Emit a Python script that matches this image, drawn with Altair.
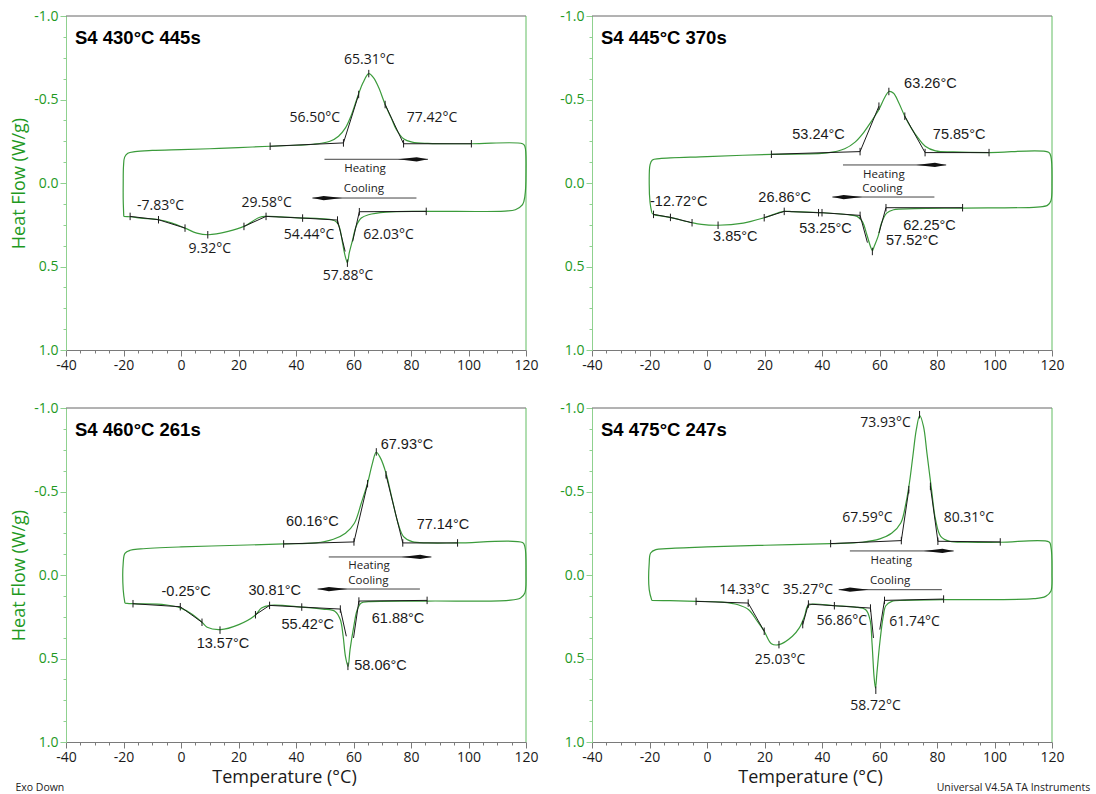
import altair as alt
import pandas as pd

# ---------------- data ----------------
TITLES = ["S4 430°C 445s", "S4 445°C 370s", "S4 460°C 261s", "S4 475°C 247s"]

X_TICKS = [-40, -35, -30, -25, -20, -15, -10, -5, 0, 5, 10, 15, 20, 25, 30, 35,
           40, 45, 50, 55, 60, 65, 70, 75, 80, 85, 90, 95, 100, 105, 110, 115, 120]
Y_TICKS = [-1.0, -0.875, -0.75, -0.625, -0.5, -0.375, -0.25, -0.125, 0.0,
           0.125, 0.25, 0.375, 0.5, 0.625, 0.75, 0.875, 1.0]

# green DSC loop, path order (left side up, heating L->R, right side down, cooling R->L)
P1_CURVE_X = [-19.9, -20.1, -20.1, -20.0, -19.6, -18.5, -16.0, -10.0, 0.0, 10.0, 20.0, 31.0, 40.0, 46.0,
              51.8, 54.8, 57.2, 59.1, 61.5, 63.3, 65.3, 67.0, 68.8, 71.0, 73.1, 74.9, 77.4, 80.4, 85.9,
              101.0, 118.8, 119.6, 120.0, 119.6, 118.8, 116.3, 112.7, 85.3, 71.3, 65.2, 62.7, 60.9, 59.7,
              58.5, 57.9, 57.0, 56.0, 55.2, 54.2, 52.4, 46.9, 42.3, 34.7, 29.8, 27.4, 21.9, 16.4, 9.5,
              5.5, 1.4, -3.1, -7.7, -14.0, -17.7, -19.9]
P1_CURVE_Y = [0.200, 0.100, 0.000, -0.100, -0.155, -0.178, -0.188, -0.195, -0.200, -0.205, -0.212, -0.220,
              -0.226, -0.232, -0.250, -0.280, -0.330, -0.400, -0.520, -0.600, -0.655, -0.630, -0.570,
              -0.470, -0.390, -0.320, -0.265, -0.245, -0.237, -0.235, -0.235, -0.220, -0.060, 0.080,
              0.130, 0.160, 0.168, 0.170, 0.174, 0.190, 0.210, 0.260, 0.340, 0.420, 0.477, 0.430, 0.340,
              0.270, 0.235, 0.220, 0.212, 0.210, 0.203, 0.200, 0.205, 0.260, 0.290, 0.310, 0.300, 0.270,
              0.240, 0.220, 0.210, 0.202, 0.200]

P2_CURVE_X = [-19.2, -19.8, -20.1, -19.8, -19.0, -16.5, 0.0, 22.4, 41.8, 47.9, 51.5, 54.6, 57.0, 59.8,
              61.9, 63.3, 64.9, 66.7, 68.8, 71.0, 73.4, 75.9, 79.5, 85.6, 98.1, 118.8, 119.6, 120.0,
              119.6, 118.4, 114.8, 88.9, 72.2, 64.9, 62.5, 60.7, 59.5, 58.2, 57.5, 56.8, 55.6, 54.0,
              52.2, 49.1, 40.0, 30.0, 26.7, 19.9, 12.6, 3.8, -1.9, -5.2, -12.9, -18.6, -19.2]
P2_CURVE_Y = [0.178, 0.118, 0.000, -0.110, -0.138, -0.146, -0.158, -0.172, -0.180, -0.205, -0.245,
              -0.305, -0.365, -0.440, -0.515, -0.548, -0.537, -0.480, -0.400, -0.330, -0.270, -0.220,
              -0.192, -0.186, -0.182, -0.184, -0.160, 0.000, 0.108, 0.134, 0.144, 0.150, 0.154, 0.160,
              0.180, 0.240, 0.320, 0.377, 0.405, 0.377, 0.310, 0.230, 0.200, 0.190, 0.178, 0.172,
              0.170, 0.208, 0.240, 0.253, 0.248, 0.238, 0.206, 0.188, 0.178]

P3_CURVE_X = [-19.5, -20.1, -20.1, -19.5, -17.7, -14.0, 0.0, 20.0, 35.7, 46.9, 53.0, 57.2, 60.3, 62.7,
              64.9, 66.6, 67.9, 69.4, 71.3, 73.5, 75.5, 77.4, 80.4, 85.9, 96.2, 118.8, 119.6, 120.0,
              119.6, 118.1, 113.9, 85.6, 65.2, 62.7, 61.3, 60.1, 58.8, 58.1, 57.2, 56.4, 55.4, 53.6,
              49.3, 42.0, 31.0, 28.0, 25.6, 20.1, 13.7, 9.1, 7.3, 3.6, 0.0, -5.5, -16.7, -19.5]
P3_CURVE_Y = [0.168, 0.088, -0.072, -0.130, -0.148, -0.156, -0.168, -0.178, -0.186, -0.192, -0.214,
              -0.250, -0.310, -0.430, -0.550, -0.670, -0.735, -0.700, -0.610, -0.450, -0.310, -0.230,
              -0.200, -0.192, -0.192, -0.194, -0.170, -0.012, 0.108, 0.138, 0.152, 0.156, 0.160, 0.168,
              0.208, 0.307, 0.447, 0.547, 0.487, 0.367, 0.267, 0.218, 0.204, 0.192, 0.182, 0.198, 0.244,
              0.297, 0.327, 0.313, 0.283, 0.232, 0.198, 0.178, 0.172, 0.168]

P4_CURVE_X = [-19.2, -20.1, -20.1, -19.6, -17.8, -14.1, 0.0, 20.0, 43.0, 54.0, 60.1, 64.3, 67.4, 69.2,
              70.4, 71.6, 72.8, 74.0, 75.3, 76.5, 78.1, 79.5, 81.3, 84.4, 90.5, 102.0, 119.0, 119.6,
              120.0, 119.6, 117.8, 113.6, 82.3, 68.6, 64.3, 62.2, 61.3, 60.1, 59.1, 58.6, 58.1, 57.4,
              56.7, 55.2, 51.5, 44.3, 37.0, 35.1, 33.9, 32.1, 29.7, 25.1, 22.4, 19.9, 17.5, 14.5, 10.8,
              5.3, -3.8, -12.9, -19.2]
P4_CURVE_Y = [0.152, 0.088, -0.072, -0.132, -0.152, -0.158, -0.168, -0.178, -0.188, -0.196, -0.216,
              -0.251, -0.311, -0.431, -0.551, -0.711, -0.870, -0.955, -0.890, -0.730, -0.511, -0.331,
              -0.232, -0.202, -0.196, -0.196, -0.198, -0.172, -0.012, 0.098, 0.128, 0.142, 0.148, 0.152,
              0.158, 0.184, 0.248, 0.407, 0.587, 0.677, 0.607, 0.407, 0.267, 0.208, 0.192, 0.184, 0.174,
              0.184, 0.248, 0.317, 0.367, 0.417, 0.411, 0.337, 0.277, 0.208, 0.178, 0.162, 0.158, 0.154,
              0.152]

# black tangent / baseline construction lines (polylines)
P1_TANGENTS = [[(31.0, -0.220), (56.50, -0.240), (61.8, -0.530)],
               [(71.0, -0.470), (77.42, -0.235), (101.0, -0.235)],
               [(-17.7, 0.200), (-7.83, 0.220), (1.4, 0.270)],
               [(21.9, 0.260), (29.58, 0.200), (42.3, 0.210), (54.44, 0.222), (57.1, 0.410)],
               [(59.7, 0.350), (62.03, 0.172), (85.3, 0.170)]]
P2_TANGENTS = [[(22.4, -0.172), (53.24, -0.188), (59.8, -0.460)],
               [(68.8, -0.400), (75.85, -0.182), (98.1, -0.182)],
               [(-18.6, 0.188), (-12.72, 0.206), (-5.2, 0.238)],
               [(19.9, 0.208), (26.86, 0.170), (38.8, 0.178), (40.0, 0.178), (53.25, 0.194), (55.8, 0.357)],
               [(59.8, 0.300), (62.25, 0.148), (88.9, 0.148)]]
P3_TANGENTS = [[(35.7, -0.186), (60.16, -0.198), (64.9, -0.547)],
               [(71.3, -0.600), (77.14, -0.192), (96.2, -0.192)],
               [(-16.7, 0.172), (-0.25, 0.190), (7.3, 0.283)],
               [(25.9, 0.238), (30.81, 0.182), (42.0, 0.192), (55.42, 0.204), (57.5, 0.367)],
               [(60.0, 0.377), (61.88, 0.156), (85.6, 0.152)]]
P4_TANGENTS = [[(43.0, -0.188), (67.59, -0.206), (70.2, -0.511)],
               [(77.7, -0.531), (80.31, -0.202), (102.0, -0.198)],
               [(-3.8, 0.158), (14.33, 0.168), (19.9, 0.337)],
               [(33.3, 0.297), (35.27, 0.174), (44.3, 0.184), (56.86, 0.198), (57.9, 0.377)],
               [(60.1, 0.327), (61.74, 0.152), (82.3, 0.144)]]

# short vertical cursor ticks
P1_TICKS = [(31.0, -0.220), (56.50, -0.240), (61.8, -0.530), (65.31, -0.655), (71.0, -0.470),
            (77.42, -0.235), (101.0, -0.235), (-17.7, 0.200), (-7.83, 0.220), (1.4, 0.270),
            (9.32, 0.310), (21.9, 0.260), (29.58, 0.200), (42.3, 0.210), (54.44, 0.222),
            (57.88, 0.480), (62.03, 0.172), (85.3, 0.170)]
P2_TICKS = [(22.4, -0.172), (53.24, -0.188), (59.8, -0.460), (63.26, -0.548), (68.8, -0.400),
            (75.85, -0.182), (98.1, -0.182), (-18.6, 0.188), (-12.72, 0.206), (-5.2, 0.238),
            (3.85, 0.253), (19.9, 0.208), (26.86, 0.170), (38.8, 0.178), (40.0, 0.178),
            (53.25, 0.194), (57.52, 0.410), (62.25, 0.148), (88.9, 0.148)]
P3_TICKS = [(35.7, -0.186), (60.16, -0.198), (64.9, -0.547), (67.93, -0.737), (71.3, -0.600),
            (77.14, -0.192), (96.2, -0.192), (-16.7, 0.172), (-0.25, 0.190), (7.3, 0.283),
            (13.57, 0.330), (25.9, 0.238), (30.81, 0.182), (42.0, 0.192), (55.42, 0.204),
            (58.06, 0.547), (61.88, 0.156), (85.6, 0.152)]
P4_TICKS = [(43.0, -0.188), (67.59, -0.206), (70.2, -0.511), (73.93, -0.960), (77.7, -0.531),
            (80.31, -0.202), (102.0, -0.198), (-3.8, 0.158), (14.33, 0.168), (19.9, 0.337),
            (25.03, 0.417), (33.3, 0.297), (35.27, 0.174), (44.3, 0.184), (56.86, 0.198),
            (58.72, 0.690), (61.74, 0.152), (82.3, 0.144)]

# temperature annotations (text, x, y)
P1_LABELS = [("65.31°C", 65.5, -0.735), ("56.50°C", 46.5, -0.390), ("77.42°C", 87.3, -0.390),
             ("-7.83°C", -7.1, 0.138), ("29.58°C", 29.8, 0.122), ("9.32°C", 10.0, 0.397),
             ("54.44°C", 44.5, 0.313), ("62.03°C", 72.2, 0.313), ("57.88°C", 58.1, 0.557)]
P2_LABELS = [("63.26°C", 77.7, -0.590), ("53.24°C", 38.8, -0.285), ("75.85°C", 87.7, -0.285),
             ("-12.72°C", -9.85, 0.112), ("26.86°C", 27.0, 0.092), ("3.85°C", 9.85, 0.323),
             ("53.25°C", 41.2, 0.277), ("62.25°C", 77.4, 0.257), ("57.52°C", 71.4, 0.347)]
P3_LABELS = [("67.93°C", 78.6, -0.776), ("60.16°C", 45.7, -0.315), ("77.14°C", 91.1, -0.300),
             ("-0.25°C", 1.8, 0.102), ("30.81°C", 32.6, 0.094), ("13.57°C", 14.6, 0.411),
             ("55.42°C", 44.1, 0.301), ("61.88°C", 75.5, 0.263), ("58.06°C", 69.4, 0.547)]
P4_LABELS = [("73.93°C", 62.1, -0.910), ("67.59°C", 55.8, -0.341), ("80.31°C", 91.1, -0.341),
             ("14.33°C", 13.0, 0.088), ("35.27°C", 35.1, 0.088), ("25.03°C", 25.4, 0.511),
             ("56.86°C", 46.9, 0.277), ("61.74°C", 72.2, 0.283), ("58.72°C", 58.6, 0.782)]

# direction arrows (x_start, x_end, y) and their captions (x, y)
HEAT_ARROWS = [(49.9, 85.9, -0.142), (47.3, 83.2, -0.108), (51.4, 87.1, -0.108), (49.7, 85.8, -0.144)]
COOL_ARROWS = [(81.9, 45.7, 0.090), (79.1, 43.6, 0.084), (83.1, 47.5, 0.084), (81.7, 45.8, 0.088)]
HEAT_TEXT = [(64.0, -0.082), (61.5, -0.048), (65.4, -0.052), (64.1, -0.086)]
COOL_TEXT = [(63.6, 0.038), (61.0, 0.034), (65.2, 0.034), (63.7, 0.038)]

CURVES_X = [P1_CURVE_X, P2_CURVE_X, P3_CURVE_X, P4_CURVE_X]
CURVES_Y = [P1_CURVE_Y, P2_CURVE_Y, P3_CURVE_Y, P4_CURVE_Y]
TANGENTS = [P1_TANGENTS, P2_TANGENTS, P3_TANGENTS, P4_TANGENTS]
TICKS = [P1_TICKS, P2_TICKS, P3_TICKS, P4_TICKS]
LABELS = [P1_LABELS, P2_LABELS, P3_LABELS, P4_LABELS]

# ---------------- styling ----------------
W, H = 460, 334
GREEN = "#3b9b3b"
LABEL_GREEN = "#1f991f"
AXIS_GREEN = "#8fd18f"
GRAY = "#7a7a7a"
INK = "#1a1a1a"
PANEL_FONTS = [("Open Sans", 14), ("Liberation Sans", 14.5), ("Liberation Sans", 14.5), ("Open Sans", 14)]

xscale = alt.Scale(domain=[-40, 120], nice=False, zero=False)
yscale = alt.Scale(domain=[-1, 1], nice=False, zero=False, reverse=True)


def x_axis(show_title):
    return alt.Axis(
        values=X_TICKS,
        labelExpr="datum.value % 20 === 0 ? replace(format(datum.value, 'd'), '\u2212', '-') : ''",
        tickSize={"condition": {"test": "datum.value % 20 === 0", "value": 6}, "value": 3},
        labelPadding=2, labelFlush=False, labelOverlap=False,
        labelFont="Open Sans", labelFontSize=14, labelColor=INK,
        domainColor=GRAY, tickColor=GRAY, grid=False,
        title="Temperature (°C)" if show_title else None,
        titleFont="Open Sans", titleFontSize=18, titleFontWeight="normal", titleColor=INK,
        titlePadding=4, titleX=218,
    )


def y_axis(show_title):
    major = "abs(datum.value*2 - round(datum.value*2)) < 0.000001"
    return alt.Axis(
        values=Y_TICKS,
        labelExpr=major + " ? replace(format(datum.value, '.1f'), '\u2212', '-') : ''",
        tickSize={"condition": {"test": major, "value": 6}, "value": 3},
        labelPadding=2, labelFlush=False, labelOverlap=False,
        labelFont="Open Sans", labelFontSize=14, labelColor=LABEL_GREEN,
        domainColor=AXIS_GREEN, tickColor=AXIS_GREEN, grid=False,
        title="Heat Flow (W/g)" if show_title else None,
        titleFont="Open Sans", titleFontSize=18, titleFontWeight="normal", titleColor=LABEL_GREEN,
        titlePadding=5,
    )


def panel(i, show_xt, show_yt):
    X = lambda f="x": alt.X(f"{f}:Q", scale=xscale, axis=x_axis(show_xt))
    Y = lambda f="y": alt.Y(f"{f}:Q", scale=yscale, axis=y_axis(show_yt))
    font, fsize = PANEL_FONTS[i]

    curve_df = pd.DataFrame({"x": CURVES_X[i], "y": CURVES_Y[i], "o": range(len(CURVES_X[i]))})
    curve = alt.Chart(curve_df).mark_line(
        color=GREEN, strokeWidth=1.2, interpolate="catmull-rom"
    ).encode(x=X(), y=Y(), order="o:Q")

    rows = []
    for s, seg in enumerate(TANGENTS[i]):
        for k, (tx, ty) in enumerate(seg):
            rows.append({"x": tx, "y": ty, "seg": s, "o": k})
    tang = alt.Chart(pd.DataFrame(rows)).mark_line(color=INK, strokeWidth=1).encode(
        x=X(), y=Y(), detail="seg:N", order="o:Q")

    tick_df = pd.DataFrame(TICKS[i], columns=["x", "y"])
    ticks = alt.Chart(tick_df).mark_point(
        shape="M0,-1L0,1", size=56, filled=False, color=INK, strokeWidth=1, opacity=1
    ).encode(x=X(), y=Y())

    lab_df = pd.DataFrame(LABELS[i], columns=["t", "x", "y"])
    labels = alt.Chart(lab_df).mark_text(
        font=font, fontSize=fsize, color=INK, align="center", baseline="middle"
    ).encode(x=X(), y=Y(), text="t:N")

    hx0, hx1, hy = HEAT_ARROWS[i]
    cx0, cx1, cy = COOL_ARROWS[i]
    arr_df = pd.DataFrame({"x": [hx0, cx0], "x2": [hx1, cx1], "y": [hy, cy]})
    shafts = alt.Chart(arr_df).mark_rule(color="#444", strokeWidth=1).encode(
        x=X(), x2="x2:Q", y=Y())
    head_r = alt.Chart(pd.DataFrame({"x": [hx1], "y": [hy]})).mark_point(
        shape="M-1,0L0.25,-0.14L1,0L0.25,0.14Z", size=900, filled=True, color="#111",
        opacity=1, xOffset=-15).encode(x=X(), y=Y())
    head_l = alt.Chart(pd.DataFrame({"x": [cx1], "y": [cy]})).mark_point(
        shape="M1,0L-0.25,-0.14L-1,0L-0.25,0.14Z", size=900, filled=True, color="#111",
        opacity=1, xOffset=15).encode(x=X(), y=Y())
    cap_df = pd.DataFrame({"t": ["Heating", "Cooling"],
                           "x": [HEAT_TEXT[i][0], COOL_TEXT[i][0]],
                           "y": [HEAT_TEXT[i][1], COOL_TEXT[i][1]]})
    caps = alt.Chart(cap_df).mark_text(
        font="Open Sans", fontSize=11.5, color="#222", align="center", baseline="middle"
    ).encode(x=X(), y=Y(), text="t:N")

    title_df = pd.DataFrame({"t": [TITLES[i]]})
    title = alt.Chart(title_df).mark_text(
        font="Liberation Sans", fontSize=18.5, fontWeight="bold", color="#000",
        align="left", baseline="alphabetic"
    ).encode(x=alt.value(9), y=alt.value(28), text="t:N")

    frame_df = pd.DataFrame({"k": [0]})
    top_edge = alt.Chart(frame_df).mark_rule(color="#666", strokeWidth=1).encode(
        x=alt.value(0), x2=alt.value(W), y=alt.value(0))
    right_edge = alt.Chart(frame_df).mark_rule(color="#62bd62", strokeWidth=1).encode(
        x=alt.value(W), y=alt.value(0), y2=alt.value(H))

    layers = [top_edge, right_edge, curve, tang, ticks, shafts, head_r, head_l, caps, labels, title]

    if i == 2:
        layers.append(alt.Chart(pd.DataFrame({"t": ["Exo Down"]})).mark_text(
            font="Open Sans", fontSize=10.5, color="#222", align="left", baseline="middle"
        ).encode(x=alt.value(-50.6), y=alt.value(379.7), text="t:N"))
    if i == 3:
        layers.append(alt.Chart(pd.DataFrame({"t": ["Universal V4.5A TA Instruments"]})).mark_text(
            font="Open Sans", fontSize=10.5, color="#222", align="right", baseline="middle"
        ).encode(x=alt.value(498.3), y=alt.value(379.7), text="t:N"))

    return alt.layer(*layers).properties(width=W, height=H)


chart = alt.concat(
    panel(0, False, True), panel(1, False, False),
    panel(2, True, True), panel(3, True, False),
    columns=2, spacing={"row": 58, "column": 66}, bounds="flush",
).properties(
    padding={"left": 10, "top": 9, "right": 2, "bottom": 2},
    background="white",
).configure_view(stroke=None)

chart.save("out.html", embed_options={"renderer": "svg", "actions": False})
